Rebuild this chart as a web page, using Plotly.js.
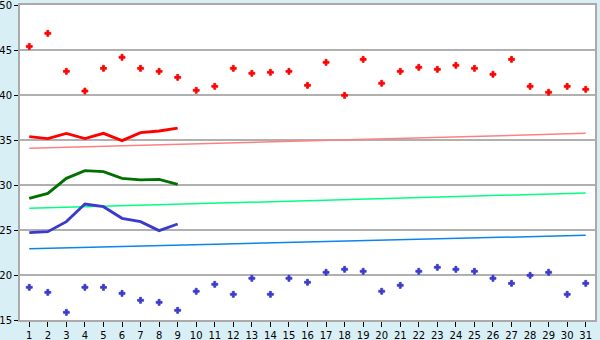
<!DOCTYPE html>
<html>
<head>
<meta charset="utf-8">
<script src="https://cdn.plot.ly/plotly-3.0.1.min.js"></script>
<style>html,body{margin:0;padding:0;background:#d8eff6;}#chart{width:600px;height:340px;}</style>
</head>
<body>
<div id="chart"></div>
<script>
const days = Array.from({length: 31}, (_, i) => i + 1);
const highs = [45.4, 46.85, 42.63, 40.44, 42.96, 44.19, 42.96, 42.63, 41.96, 40.52,
  40.96, 42.96, 42.41, 42.52, 42.63, 41.07, 43.63, 39.96, 43.96, 41.3,
  42.63, 43.07, 42.85, 43.3, 42.96, 42.3, 43.96, 40.96, 40.3, 40.96, 40.63];
const lows = [18.63, 18.07, 15.85, 18.63, 18.63, 17.96, 17.19, 16.96, 16.07, 18.19,
  18.96, 17.85, 19.63, 17.85, 19.63, 19.19, 20.3, 20.63, 20.41, 18.19,
  18.85, 20.41, 20.85, 20.63, 20.41, 19.63, 19.07, 19.96, 20.3, 17.85, 19.07];
const recentDays = [1, 2, 3, 4, 5, 6, 7, 8, 9];
const recentHigh = [35.37, 35.15, 35.74, 35.15, 35.74, 34.93, 35.81, 36.0, 36.33];
const recentMean = [28.52, 29.07, 30.74, 31.59, 31.48, 30.74, 30.56, 30.63, 30.07];
const recentLow = [24.7, 24.81, 25.93, 27.89, 27.59, 26.3, 25.93, 24.93, 25.67];
const normalDays = [1, 31];
const normalHigh = [34.07, 35.74];
const normalMean = [27.41, 29.11];
const normalLow = [22.93, 24.41];

const traces = [
  {x: normalDays, y: normalHigh, mode: 'lines', line: {color: '#ff8080', width: 1.5}},
  {x: normalDays, y: normalMean, mode: 'lines', line: {color: '#00ff80', width: 1.5}},
  {x: normalDays, y: normalLow, mode: 'lines', line: {color: '#0a84f0', width: 1.5}},
  {x: recentDays, y: recentHigh, mode: 'lines', line: {color: '#ff0000', width: 2.8}},
  {x: recentDays, y: recentMean, mode: 'lines', line: {color: '#007000', width: 2.8}},
  {x: recentDays, y: recentLow, mode: 'lines', line: {color: '#3a3acc', width: 2.8}},
  {x: days, y: highs, mode: 'markers', marker: {symbol: 'cross', size: 5, color: '#ff0000', line: {color: '#ff0000', width: 0.8}}},
  {x: days, y: lows, mode: 'markers', marker: {symbol: 'cross', size: 5, color: '#3a3acc', line: {color: '#3a3acc', width: 0.8}}}
];

const layout = {
  width: 600, height: 340,
  margin: {l: 20, r: 5, t: 5, b: 20},
  paper_bgcolor: '#d8eff6',
  plot_bgcolor: '#ffffff',
  showlegend: false,
  font: {family: 'DejaVu Sans', size: 10, color: '#000'},
  xaxis: {
    range: [0.5, 31.5], tickmode: 'array', tickvals: days, ticktext: days.map(String),
    showgrid: false, zeroline: false, showline: true, linecolor: '#aaaaaa', linewidth: 2,
    mirror: true, ticks: 'outside', ticklen: 5, tickcolor: '#000', tickwidth: 1,
    ticklabeloverflow: 'allow',
    tickfont: {family: 'DejaVu Sans', size: 10}
  },
  yaxis: {
    range: [15, 50], tickvals: [15, 20, 25, 30, 35, 40, 45, 50],
    showgrid: true, gridcolor: '#b0b0b0', gridwidth: 1.5, zeroline: false,
    showline: true, linecolor: '#aaaaaa', linewidth: 2, mirror: true,
    ticks: 'outside', ticklen: 4, tickcolor: '#000',
    ticklabeloverflow: 'allow',
    tickfont: {family: 'DejaVu Sans', size: 10}
  }
};

Plotly.newPlot('chart', traces, layout, {displayModeBar: false, staticPlot: true});
</script>
</body>
</html>
